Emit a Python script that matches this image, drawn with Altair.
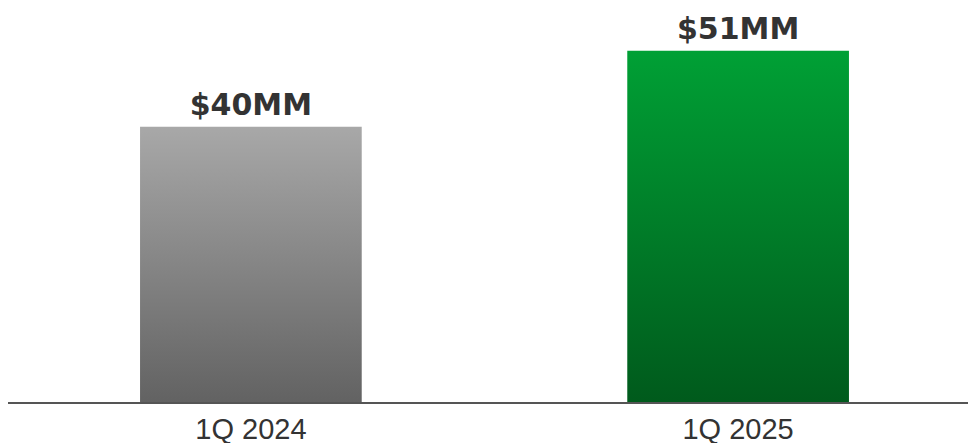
import altair as alt
import pandas as pd

categories = ["1Q 2024", "1Q 2025"]
values = [40, 51]
labels = ["$40MM", "$51MM"]

df = pd.DataFrame({"period": categories, "value": values, "label": labels})

x_enc = alt.X("period:N", sort=categories, title=None,
              scale=alt.Scale(range=[0, 973], paddingInner=0.545, paddingOuter=0.271),
              axis=alt.Axis(labelAngle=0, labelFont="Liberation Sans", labelFontSize=29,
                            labelColor="#333333", labelPadding=12, labelBaseline="top",
                            ticks=False, domain=False, grid=False))
y_enc = alt.Y("value:Q", title=None, scale=alt.Scale(domain=[0, 57.2], nice=False, zero=True),
              axis=None)

base = alt.Chart(df).encode(x=x_enc, y=y_enc)

gray = base.transform_filter(alt.datum.period == "1Q 2024").mark_bar(
    color=alt.Gradient(gradient="linear", x1=0, x2=0, y1=0, y2=1,
                       stops=[alt.GradientStop(color="#a8a8a8", offset=0),
                              alt.GradientStop(color="#626262", offset=1)]))
green = base.transform_filter(alt.datum.period == "1Q 2025").mark_bar(
    color=alt.Gradient(gradient="linear", x1=0, x2=0, y1=0, y2=1,
                       stops=[alt.GradientStop(color="#00a035", offset=0),
                              alt.GradientStop(color="#005a1c", offset=1)]))

text = base.mark_text(font="DejaVu Sans", fontWeight="bold", fontSize=30,
                      color="#333333", baseline="alphabetic", dy=-12).encode(text="label:N")

baseline = alt.Chart(df).mark_rule(color="#555555", strokeWidth=2).encode(
    x=alt.value(-4), x2=alt.value(968), y=alt.value(395))

chart = alt.layer(gray, green, text, baseline).properties(
    width=960, height=395,
    autosize=alt.AutoSizeParams(type="none"),
    padding={"left": 0, "top": 0, "right": 0, "bottom": 40}
).configure_view(stroke=None)

chart.save("out.html", embed_options={"renderer": "svg", "actions": False})
